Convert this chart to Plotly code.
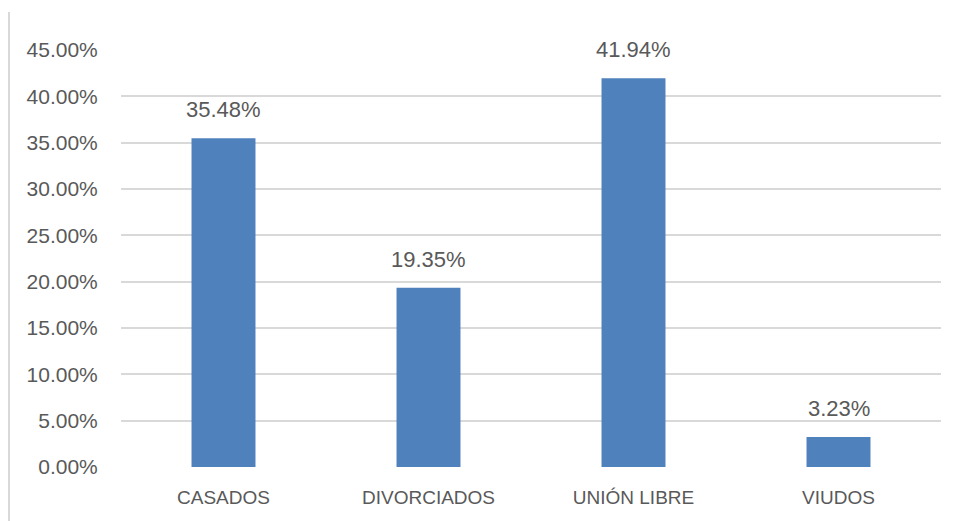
import plotly.graph_objects as go

categories = ["CASADOS", "DIVORCIADOS", "UNIÓN LIBRE", "VIUDOS"]
values = [35.48, 19.35, 41.94, 3.23]
labels = ["35.48%", "19.35%", "41.94%", "3.23%"]
tick_vals = [0, 5, 10, 15, 20, 25, 30, 35, 40, 45]
tick_text = ["0.00%", "5.00%", "10.00%", "15.00%", "20.00%", "25.00%",
             "30.00%", "35.00%", "40.00%", "45.00%"]

FONT = "Liberation Sans"
TXT = "#595959"
FS = 21

fig = go.Figure(go.Bar(
    x=categories, y=values,
    marker=dict(color="#4F81BD", line=dict(width=0)),
    width=0.312,
))

for c, v, t in zip(categories, values, labels):
    fig.add_annotation(x=c, y=v, text=t, showarrow=False, yanchor="bottom",
                       yshift=14, font=dict(family=FONT, size=22, color=TXT))

fig.update_layout(
    width=957, height=521,
    margin=dict(l=113, r=24, t=42, b=62),
    paper_bgcolor="white", plot_bgcolor="white",
    showlegend=False,
    font=dict(family=FONT, size=FS, color=TXT),
    xaxis=dict(showgrid=False, showline=False, zeroline=False,
               ticks="outside", ticklen=13, tickcolor="rgba(0,0,0,0)",
               tickfont=dict(family=FONT, size=19, color=TXT)),
    yaxis=dict(range=[0, 45], tickvals=tick_vals, ticktext=tick_text,
               showgrid=True, gridcolor="#D9D9D9", gridwidth=2,
               zeroline=False, showline=False,
               ticks="outside", ticklen=18, tickcolor="rgba(0,0,0,0)",
               tickfont=dict(family=FONT, size=FS, color=TXT)),
    shapes=[dict(type="line", xref="paper", yref="paper",
                 x0=(1 - 113) / 820, x1=(1 - 113) / 820,
                 y0=(521 - 62 - 4) / 417, y1=-62 / 417,
                 line=dict(color="#D9D9D9", width=2))],
)

fig.write_html("out.html")
